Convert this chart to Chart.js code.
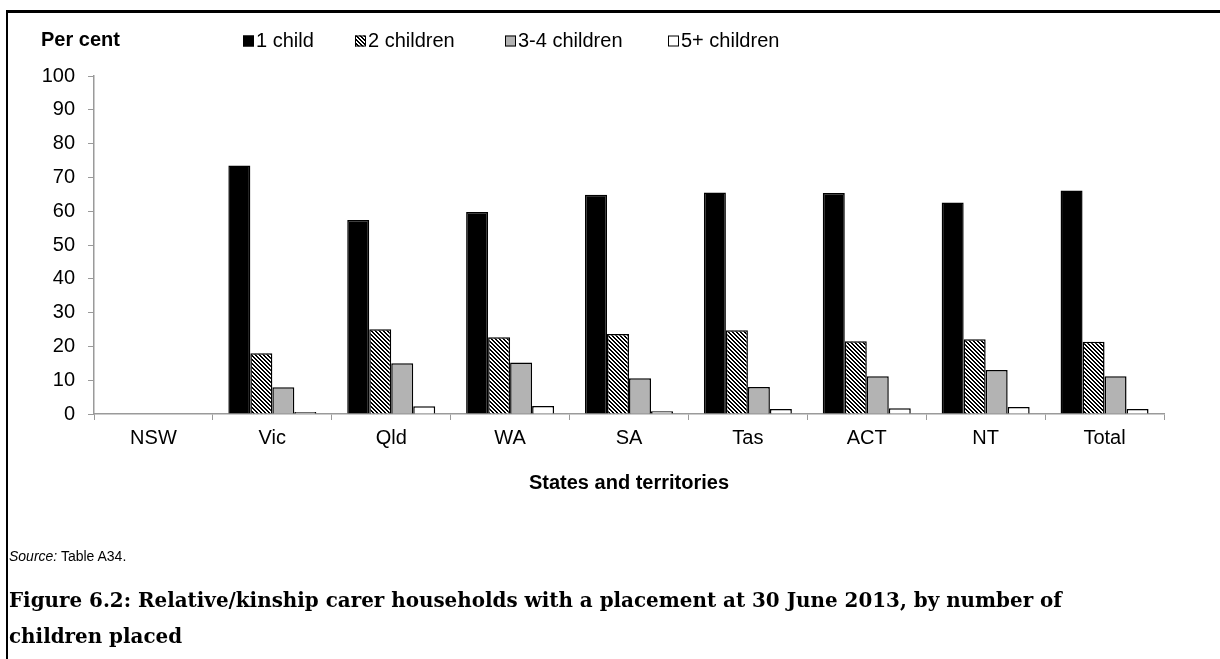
<!DOCTYPE html>
<html>
<head>
<meta charset="utf-8">
<script src="https://cdn.jsdelivr.net/npm/chart.js@4.4.1/dist/chart.umd.min.js"></script>
<style>
  html, body { margin: 0; padding: 0; background: #fff; }
  body { width: 1220px; height: 659px; position: relative; overflow: hidden; }
  #frame { position: absolute; left: 6px; top: 10px; width: 1300px; height: 800px;
           border-left: 2px solid #000; border-top: 3px solid #000; }
  #wrap { position: absolute; left: 0; top: 0; width: 1220px; height: 659px; }
  #source { position: absolute; left: 9px; top: 548px; font-family: "Liberation Sans", Arial, sans-serif;
            font-size: 14px; line-height: 17px; color: #000; }
  #title { position: absolute; left: 9px; top: 582px; width: 1200px; font-family: "DejaVu Serif", serif;
           font-weight: bold; font-size: 19.9px; line-height: 36px; color: #000; white-space: nowrap; }
</style>
</head>
<body>
<div id="frame"></div>
<div id="wrap"><canvas id="c" width="1220" height="659"></canvas></div>
<div id="source"><i>Source:</i> Table A34.</div>
<div id="title">Figure 6.2: Relative/kinship carer households with a placement at 30 June 2013, by number of<br>children placed</div>
<script>
// ---- data ----
const categories = ['NSW', 'Vic', 'Qld', 'WA', 'SA', 'Tas', 'ACT', 'NT', 'Total'];
const seriesNames = ['1 child', '2 children', '3-4 children', '5+ children'];
const oneChild    = [null, 73.5, 57.4, 59.8, 64.9, 65.5, 65.4, 62.6, 66.1];
const twoChildren = [null, 18.0, 25.1, 22.7, 23.7, 24.8, 21.5, 22.1, 21.4];
const threeFour   = [null,  7.9, 15.0, 15.2, 10.6,  8.0, 11.2, 13.0, 11.2];
const fivePlus    = [null,  0.6,  2.3,  2.4,  0.8,  1.5,  1.7,  2.1,  1.5];
const yTicks      = [0, 10, 20, 30, 40, 50, 60, 70, 80, 90, 100];

// ---- styles ----
function makeHatch() {
  const c = document.createElement('canvas');
  c.width = 4; c.height = 4;
  const g = c.getContext('2d');
  g.fillStyle = '#fff'; g.fillRect(0, 0, 4, 4);
  g.fillStyle = '#000';
  for (let i = 0; i < 4; i++) { g.fillRect(i, i, 1, 1); g.fillRect((i + 1) % 4, i, 1, 1); }
  return document.getElementById('c').getContext('2d').createPattern(c, 'repeat');
}
const hatch = makeHatch();
const fills = ['#000000', hatch, '#b3b3b3', '#ffffff'];
const FONT = '"Liberation Sans", Arial, sans-serif';
const AXIS_GRAY = '#9a9a9a';

const legendBoxX = [243, 355, 505, 668];
const textPlugin = {
  id: 'texts',
  afterDraw(chart) {
    const ctx = chart.ctx;
    ctx.save();
    ctx.fillStyle = '#000';
    ctx.textBaseline = 'middle';
    ctx.textAlign = 'left';
    ctx.font = 'bold 20px ' + FONT;
    ctx.fillText('Per cent', 41, 40);
    ctx.font = '20px ' + FONT;
    chart.data.datasets.forEach((ds, i) => {
      const x = legendBoxX[i], y = 41;
      ctx.fillStyle = ds.backgroundColor;
      ctx.fillRect(x, y - 5.5, 11, 11);
      ctx.strokeStyle = '#000';
      ctx.lineWidth = 1;
      ctx.strokeRect(x + 0.5, y - 5, 10, 10);
      ctx.fillStyle = '#000';
      ctx.fillText(ds.label, x + 13, y);
    });
    ctx.restore();
  }
};

const datasets = [oneChild, twoChildren, threeFour, fivePlus].map((d, i) => ({
  label: seriesNames[i],
  data: d,
  backgroundColor: fills[i],
  borderColor: '#000',
  borderWidth: 1.5,
  categoryPercentage: 0.74,
  barPercentage: 1.0
}));

new Chart(document.getElementById('c'), {
  type: 'bar',
  data: { labels: categories, datasets },
  plugins: [textPlugin],
  options: {
    responsive: false,
    animation: false,
    events: [],
    layout: { padding: { left: 0, top: 76, right: 56, bottom: 0 } },
    plugins: { legend: { display: false }, tooltip: { enabled: false } },
    scales: {
      x: {
        grid: { display: true, drawOnChartArea: false, drawTicks: true, tickLength: 6, color: AXIS_GRAY, offset: true },
        border: { display: true, color: AXIS_GRAY, width: 1.5 },
        ticks: { color: '#000', font: { family: FONT, size: 20 }, padding: 6, maxRotation: 0 },
        title: { display: true, text: 'States and territories', color: '#000',
                 font: { family: FONT, size: 20, weight: 'bold' }, padding: { top: 0, bottom: 164 } },
        afterFit(scale) { scale.height = 659 - 414; }
      },
      y: {
        min: 0, max: 100,
        afterBuildTicks(scale) { scale.ticks = yTicks.map(v => ({ value: v })); },
        grid: { display: true, drawOnChartArea: false, drawTicks: true, tickLength: 6, color: AXIS_GRAY },
        border: { display: true, color: AXIS_GRAY, width: 1.5 },
        ticks: { color: '#000', font: { family: FONT, size: 20 }, padding: 13 },
        afterFit(scale) { scale.width = 94; }
      }
    }
  }
});
</script>
</body>
</html>
